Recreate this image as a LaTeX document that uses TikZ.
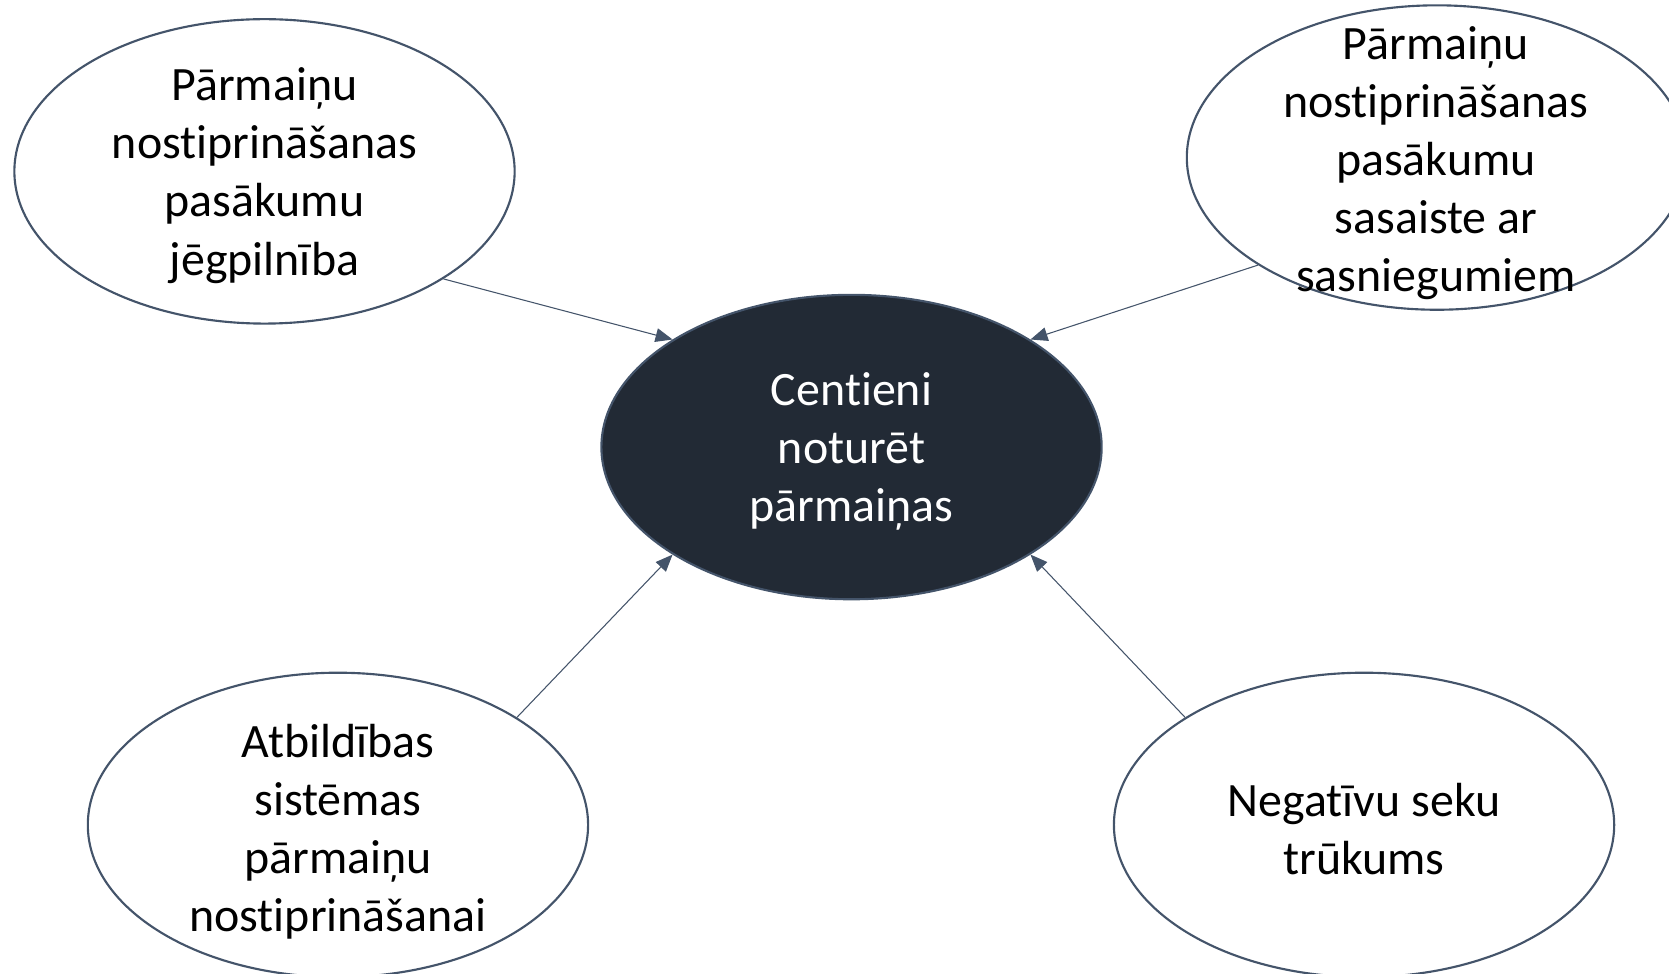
\documentclass[tikz,border=0pt]{standalone}
\usepackage{fontspec}
\setmainfont{Carlito}[Ligatures=NoCommon]
\usetikzlibrary{shapes.geometric,arrows.meta}
\definecolor{edgec}{RGB}{68,84,106}
\definecolor{darkc}{RGB}{34,42,53}
\begin{document}
\begin{tikzpicture}[x=1pt,y=-1pt,
 bub/.style={ellipse,draw=edgec,line width=2pt,minimum width=470pt,minimum height=286pt,inner sep=0pt,fill=white},
 hub/.style={bub,fill=darkc},
 lbl/.style={align=center,font=\fontsize{45}{54.5}\selectfont,inner sep=0pt},
 conn/.style={draw=edgec,line width=1pt,-{Triangle[length=16pt,width=13pt]}}]
\useasboundingbox (0,0) rectangle (1568,915);
\clip (0,0) rectangle (1568,915);
\node[bub] (tl) at (248.5,161) {};
\node[bub] (tr) at (1350,148) {};
\node[hub] (c) at (800,420) {};
\node[bub] (bl) at (317.5,775) {};
\node[bub] (br) at (1281.5,775) {};
\draw[conn] (tl.-31) -- (c.149);
\draw[conn] (tr.-149) -- (c.31);
\draw[conn] (bl.31) -- (c.-149);
\draw[conn] (br.149) -- (c.-31);
\node[lbl] (tlt) at (248.5,165) {Pārmaiņu\\nostiprināšanas\\pasākumu\\jēgpilnība};
\node[lbl] (trt) at (1349,153) {Pārmaiņu\\nostiprināšanas\\pasākumu\\sasaiste ar\\sasniegumiem};
\node[lbl,text=white] (ct) at (800,424) {Centieni\\noturēt\\pārmaiņas};
\node[lbl] (blt) at (317.5,781) {Atbildības\\sistēmas\\pārmaiņu\\nostiprināšanai};
\node[lbl] (brt) at (1281.5,779) {Negatīvu seku\\trūkums};
\end{tikzpicture}
\end{document}
